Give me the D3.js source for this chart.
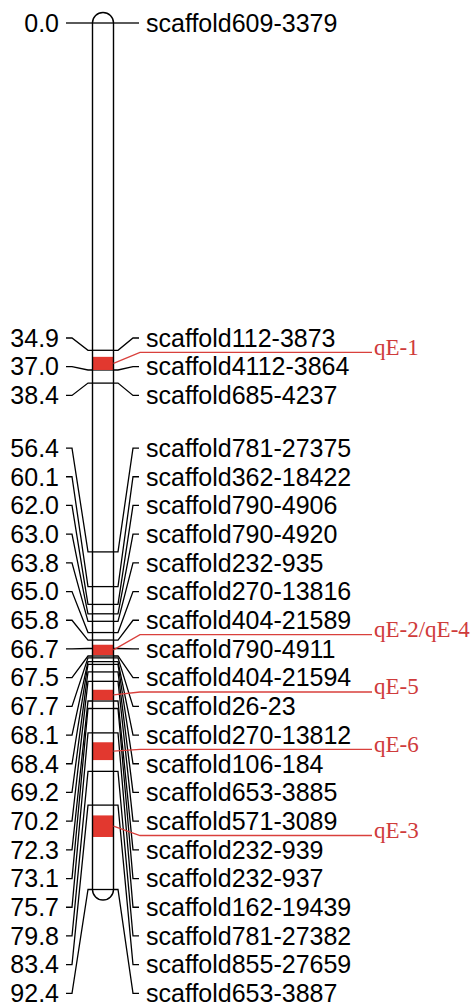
<!DOCTYPE html>
<html>
<head>
<meta charset="utf-8">
<script src="https://cdn.jsdelivr.net/npm/d3@7"></script>
<style>
  html, body { margin: 0; padding: 0; background: #fff; }
  text { font-family: "Liberation Sans", Arial, sans-serif; }
  .qtl-label { font-family: "Liberation Serif", "Times New Roman", serif; }
</style>
</head>
<body>
<svg id="map"></svg>
<script>
/*
  linkage group map: marker positions (cM) on the left, marker names on the right,
  QTL intervals as red blocks on the bar with their names off to the right.
*/
var markerNames = [
  "scaffold609-3379", "scaffold112-3873", "scaffold4112-3864", "scaffold685-4237",
  "scaffold781-27375", "scaffold362-18422", "scaffold790-4906", "scaffold790-4920",
  "scaffold232-935", "scaffold270-13816", "scaffold404-21589", "scaffold790-4911",
  "scaffold404-21594", "scaffold26-23", "scaffold270-13812", "scaffold106-184",
  "scaffold653-3885", "scaffold571-3089", "scaffold232-939", "scaffold232-937",
  "scaffold162-19439", "scaffold781-27382", "scaffold855-27659", "scaffold653-3887"
];
var markerPos = [
  0.0, 34.9, 37.0, 38.4,
  56.4, 60.1, 62.0, 63.0,
  63.8, 65.0, 65.8, 66.7,
  67.5, 67.7, 68.1, 68.4,
  69.2, 70.2, 72.3, 73.1,
  75.7, 79.8, 83.4, 92.4
];

var qtlNames = ["qE-1", "qE-2/qE-4", "qE-5", "qE-6", "qE-3"];
var qtlStart = [35.6, 66.3, 71.1, 76.7, 84.5];
var qtlEnd = [37.0, 67.4, 72.2, 78.6, 86.8];
// the qtl name sits in the gap just below this marker's label
var qtlAfter = ["scaffold112-3873", "scaffold404-21589", "scaffold404-21594", "scaffold270-13812", "scaffold571-3089"];

var width = 473, height = 1007;
var barX = 92.5, barW = 21, capR = 10.5;
var labelGap = 28.7;
var fontSize = 25;

var svg = d3.select("#map").attr("width", width).attr("height", height);

var y = d3.scaleLinear().domain([0, d3.max(markerPos)]).range([23, 889.5]);

// spread labels: each cluster is centred on the middle of its span; while clusters
// overlap, join the overlapping pair whose markers are closest on the bar
function spreadLabels(ideal, gap) {
  var cl = ideal.map(function(v, i) { return {first: i, last: i}; });
  function top(c) {
    return (ideal[c.first] + ideal[c.last]) / 2 - (c.last - c.first) * gap / 2;
  }
  while (true) {
    var best = -1, bestDist = Infinity;
    for (var i = 0; i < cl.length - 1; i++) {
      var a = cl[i], b = cl[i + 1];
      if (top(a) + (a.last - a.first + 1) * gap > top(b) + 0.01) {
        var dist = ideal[b.first] - ideal[a.last];
        if (dist < bestDist) { bestDist = dist; best = i; }
      }
    }
    if (best < 0) break;
    cl.splice(best, 2, {first: cl[best].first, last: cl[best + 1].last});
  }
  var out = [];
  cl.forEach(function(c) {
    var t = top(c);
    for (var k = c.first; k <= c.last; k++) out.push(t + (k - c.first) * gap);
  });
  return out;
}

var barY = markerPos.map(function(d) { return y(d); });
var labY = spreadLabels(barY, labelGap);

var markers = markerNames.map(function(n, i) {
  return {name: n, pos: markerPos[i], by: barY[i], ly: labY[i]};
});

var x0 = barX, x1 = barX + barW;
var yTop = y(0), yBot = y(d3.max(markerPos));

// bar background
var barPath = "M" + x0 + "," + yTop +
  "A" + capR + "," + capR + " 0 0 1 " + x1 + "," + yTop +
  "L" + x1 + "," + yBot +
  "A" + capR + "," + capR + " 0 0 1 " + x0 + "," + yBot + "Z";

svg.append("path").attr("d", barPath).attr("fill", "#fff").attr("stroke", "none");

// marker lines across the bar
svg.append("g").selectAll("line").data(markers).enter().append("line")
  .attr("x1", x0).attr("x2", x1)
  .attr("y1", function(d) { return d.by; }).attr("y2", function(d) { return d.by; })
  .attr("stroke", "#000").attr("stroke-width", 1.3);

// qtl blocks
var qtls = qtlNames.map(function(n, i) {
  var k = markerNames.indexOf(qtlAfter[i]);
  return {name: n, y0: y(qtlStart[i]), y1: y(qtlEnd[i]), ly: (labY[k] + labY[k + 1]) / 2};
});

svg.append("g").selectAll("rect").data(qtls).enter().append("rect")
  .attr("x", x0).attr("width", barW)
  .attr("y", function(d) { return d.y0; })
  .attr("height", function(d) { return d.y1 - d.y0; })
  .attr("fill", "#e2382f");

svg.append("path").attr("d", barPath).attr("fill", "none")
  .attr("stroke", "#000").attr("stroke-width", 1.4);

// connectors
var lx = [66, 72, 88], rx = [118, 133, 139];
var conn = svg.append("g").attr("fill", "none").attr("stroke", "#000").attr("stroke-width", 1.3);
conn.selectAll("path.left").data(markers).enter().append("path").attr("class", "left")
  .attr("d", function(d) {
    return "M" + lx[0] + "," + d.ly + "L" + lx[1] + "," + d.ly +
      "L" + lx[2] + "," + d.by + "L" + x0 + "," + d.by;
  });
conn.selectAll("path.right").data(markers).enter().append("path").attr("class", "right")
  .attr("d", function(d) {
    return "M" + x1 + "," + d.by + "L" + rx[0] + "," + d.by +
      "L" + rx[1] + "," + d.ly + "L" + rx[2] + "," + d.ly;
  });

// labels
svg.append("g").selectAll("text").data(markers).enter().append("text")
  .attr("x", 59).attr("y", function(d) { return d.ly; }).attr("dy", "0.35em")
  .attr("text-anchor", "end").attr("font-size", fontSize).attr("fill", "#000")
  .text(function(d) { return d3.format(".1f")(d.pos); });

svg.append("g").selectAll("text").data(markers).enter().append("text")
  .attr("x", 146).attr("y", function(d) { return d.ly; }).attr("dy", "0.35em")
  .attr("font-size", fontSize).attr("fill", "#000")
  .text(function(d) { return d.name; });

// qtl leaders and names
var qg = svg.append("g");
qg.selectAll("path").data(qtls).enter().append("path")
  .attr("d", function(d) {
    var c = (d.y0 + d.y1) / 2;
    return "M" + x1 + "," + c + "L" + 140 + "," + d.ly + "L" + 372 + "," + d.ly;
  })
  .attr("fill", "none").attr("stroke", "#d9403c").attr("stroke-width", 1.3);
qg.selectAll("text").data(qtls).enter().append("text")
  .attr("class", "qtl-label")
  .attr("x", 374).attr("y", function(d) { return d.ly; }).attr("dy", "0.1em")
  .attr("font-size", 23).attr("fill", "#cf3b3b")
  .text(function(d) { return d.name; });
</script>
</body>
</html>
